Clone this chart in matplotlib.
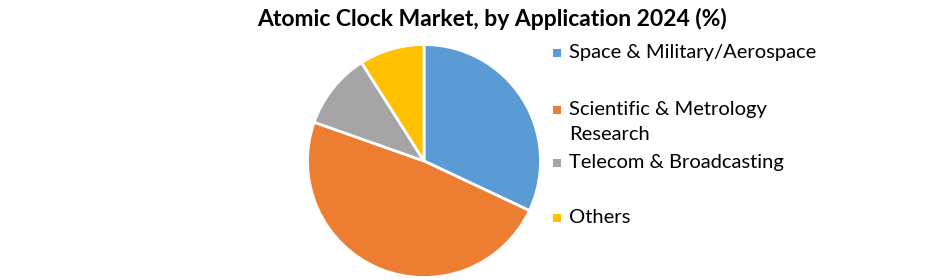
import matplotlib
matplotlib.use("Agg")
import matplotlib.pyplot as plt

# data
labels = ["Space & Military/Aerospace", "Scientific & Metrology\nResearch",
          "Telecom & Broadcasting", "Others"]
shares = [32.0, 48.4, 10.6, 9.0]
colors = ["#5B9BD5", "#ED7D31", "#A5A5A5", "#FFC000"]

W, H = 941, 280
fig = plt.figure(figsize=(W / 100, H / 100), dpi=100)
plt.rcParams["font.family"] = ["Lato", "DejaVu Sans"]

# pie: center (424, 161) px, radius ~116.5 px
cx, cy, r = 424, 161, 116.5
ax = fig.add_axes([(cx - r) / W, (H - cy - r) / H, 2 * r / W, 2 * r / H])
ax.pie(shares, colors=colors, startangle=90, counterclock=False, radius=1,
       wedgeprops=dict(edgecolor="white", linewidth=2))
ax.set_xlim(-1, 1)
ax.set_ylim(-1, 1)
ax.set_aspect("equal")
ax.axis("off")

fig.text(492 / W, 1 - 19 / H, "Atomic Clock Market, by Application 2024 (%)",
         ha="center", va="center", fontsize=16.5, fontweight="bold")

# legend, placed by hand (uneven spacing like the original)
rows_y = [53, 110, 163, 218]
for lab, col, y in zip(labels, colors, rows_y):
    fig.patches.append(plt.Rectangle(((553) / W, 1 - (y + 4) / H), 8 / W, 8 / H,
                                     transform=fig.transFigure, facecolor=col,
                                     edgecolor="none"))
    fig.text(569 / W, 1 - (y - 9) / H, lab, ha="left", va="top",
             fontsize=14.5, linespacing=1.55)

fig.savefig("out.png", dpi=100, facecolor="white")
